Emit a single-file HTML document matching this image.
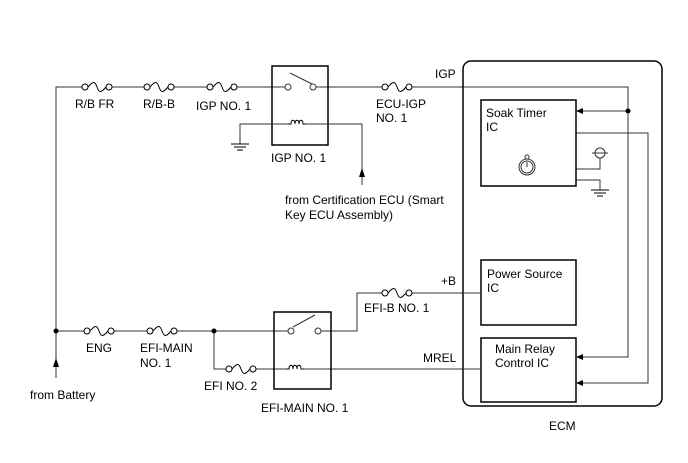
<!DOCTYPE html><html><head><style>body{margin:0;background:#fff}svg{display:block}text{font-family:"Liberation Sans",sans-serif;font-size:12px;fill:#000}</style></head><body>
<svg width="688" height="463" viewBox="0 0 688 463" xmlns="http://www.w3.org/2000/svg">
<defs>
<g id="fuse"><circle cx="0" cy="0" r="3" fill="#fff" stroke="#000"/><circle cx="24" cy="0" r="3" fill="#fff" stroke="#000"/><path d="M3 0 C8 -6 10 -6 12 0 C14 6 16 6 21 0" fill="none" stroke="#000"/></g>
<g id="coil"><path d="M-9 0 h3 c0-5 4-5 4 0 c0-5 4-5 4 0 c0-5 4-5 4 0 h3" fill="none" stroke="#000"/></g>
<g id="gnd"><path d="M-9 0h18M-6 3h12M-3 6h6" stroke="#000"/></g>
</defs>
<g stroke="#333" fill="none" stroke-width="1">
<path d="M56 378V87H85M109 87H147M171 87H210M234 87H285M316 87H385M409 87H628V357H582"/>
<path d="M628 111H582M576 133H648V383H582"/>
<path d="M576 169H600V158M576 180H600V190"/>
<circle cx="600" cy="153" r="5" fill="#fff"/><path d="M592 153h16"/>
<rect x="272" y="66" width="56" height="79" stroke-width="1.5" stroke="#000"/>
<path d="M290 73L312 84"/>
<circle cx="288" cy="87" r="3" fill="#fff"/><circle cx="313" cy="87" r="3" fill="#fff"/>
<path d="M240 144V124H288M306 124H362V185"/>
<path d="M56 331H87M111 331H150M174 331H289M321 331H357V293H385M409 293H463"/>
<path d="M214 331V369H229M253 369H286M304 369H463"/>
<rect x="274" y="312" width="57" height="77" stroke-width="1.5" stroke="#000"/>
<path d="M293 327L315 315"/>
<circle cx="291" cy="331" r="3" fill="#fff"/><circle cx="318" cy="331" r="3" fill="#fff"/>
<rect x="463" y="61" width="199" height="345" rx="8" stroke-width="1.5" stroke="#000"/>
<rect x="481" y="100" width="95" height="86" stroke-width="1.5" stroke="#000"/>
<rect x="481" y="260" width="95" height="65" stroke-width="1.5" stroke="#000"/>
<rect x="481" y="338" width="95" height="64" stroke-width="1.5" stroke="#000"/>
<path d="M463 369H481M463 293H481"/>
<circle cx="527" cy="167" r="8"/><circle cx="527" cy="167" r="6"/><circle cx="527" cy="157" r="2"/><path d="M527 167v-5"/>
</g>
<g fill="#000">
<circle cx="628" cy="111" r="2.5"/><circle cx="56" cy="331" r="2.5"/><circle cx="214" cy="331" r="2.5"/>
<path d="M576 111l7-3v6zM576 357l7-3v6zM576 383l7-3v6zM362 168l-3 9h6zM56 358l-3 9h6z"/>
</g>
<use href="#fuse" x="85" y="87"/><use href="#fuse" x="147" y="87"/><use href="#fuse" x="210" y="87"/><use href="#fuse" x="385" y="87"/>
<use href="#fuse" x="87" y="331"/><use href="#fuse" x="150" y="331"/><use href="#fuse" x="229" y="369"/><use href="#fuse" x="385" y="293"/>
<use href="#coil" x="297" y="124"/><use href="#coil" x="295" y="369"/>
<use href="#gnd" x="240" y="144"/><use href="#gnd" x="600" y="190"/>
<text x="75" y="108">R/B FR</text><text x="143" y="108">R/B-B</text><text x="196" y="110">IGP NO. 1</text>
<text x="376" y="108">ECU-IGP</text><text x="376" y="122">NO. 1</text><text x="435" y="78">IGP</text>
<text x="271" y="162">IGP NO. 1</text>
<text x="285" y="204">from Certification ECU (Smart</text><text x="285" y="219">Key ECU Assembly)</text>
<text x="486" y="117">Soak Timer</text><text x="486" y="131">IC</text>
<text x="487" y="278">Power Source</text><text x="487" y="292">IC</text>
<text x="495" y="353">Main Relay</text><text x="495" y="367">Control IC</text>
<text x="549" y="430">ECM</text>
<text x="86" y="352">ENG</text><text x="140" y="352">EFI-MAIN</text><text x="140" y="367">NO. 1</text>
<text x="204" y="390">EFI NO. 2</text><text x="261" y="412">EFI-MAIN NO. 1</text>
<text x="364" y="312">EFI-B NO. 1</text><text x="441" y="285">+B</text><text x="423" y="362">MREL</text>
<text x="30" y="399">from Battery</text>
</svg></body></html>
